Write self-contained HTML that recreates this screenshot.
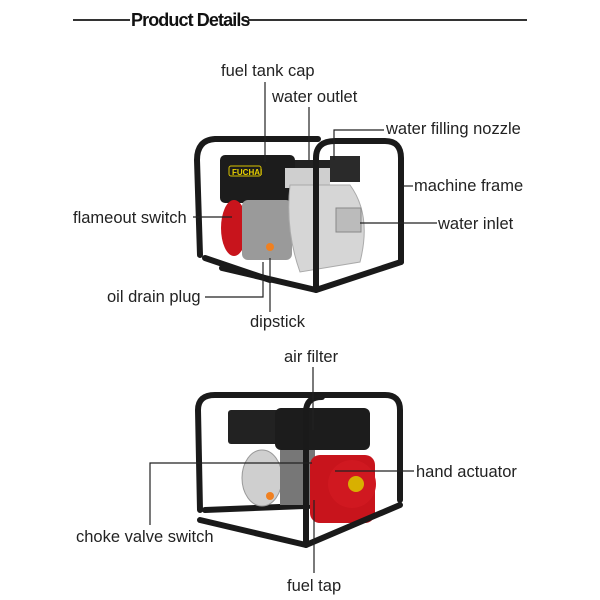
<!DOCTYPE html>
<html><head><style>
html,body{margin:0;padding:0;background:#fff;}
svg{display:block}
text{font-family:"Liberation Sans",sans-serif;font-size:16.5px;fill:#222}
</style></head><body>
<svg width="600" height="600" viewBox="0 0 600 600" xmlns="http://www.w3.org/2000/svg">
<line x1="73" y1="20" x2="130" y2="20" stroke="#333" stroke-width="2"/>
<line x1="248" y1="20" x2="527" y2="20" stroke="#333" stroke-width="2"/>
<text x="131" y="26" style="font-weight:bold;font-size:18px;fill:#111;letter-spacing:-0.9px">Product Details</text>

<!-- TOP PUMP -->
<g stroke="#1a1a1a" stroke-width="6" fill="none" stroke-linejoin="round" stroke-linecap="round">
<path d="M200 255 L197 160 Q197 140 215 139 L318 139"/>
<path d="M205 258 L270 280"/>
</g>
<rect x="220" y="155" width="75" height="48" rx="5" fill="#1c1c1c"/>
<rect x="229" y="166" width="32" height="10" rx="2" fill="#1c1c1c" stroke="#d8c200"/>
<text x="232" y="175" style="font-size:8px;font-weight:bold;fill:#e8d000">FUCHAI</text>
<rect x="295" y="160" width="65" height="22" fill="#222"/>
<rect x="330" y="156" width="30" height="26" fill="#2a2a2a"/>
<ellipse cx="234" cy="228" rx="13" ry="28" fill="#c8141c"/>
<rect x="242" y="200" width="50" height="60" rx="6" fill="#9a9a9a"/>
<rect x="285" y="168" width="45" height="20" fill="#cfcfcf"/>
<path d="M290 185 L350 185 Q372 215 360 262 L300 272 Q285 230 290 185Z" fill="#d6d6d6" stroke="#aaa"/>
<rect x="336" y="208" width="25" height="24" fill="#bbb" stroke="#888"/>
<circle cx="270" cy="247" r="4" fill="#f08020"/>
<g stroke="#1a1a1a" stroke-width="6" fill="none" stroke-linejoin="round" stroke-linecap="round">
<path d="M316 290 L316 158 Q316 141 335 141 L385 141 Q401 141 401 158 L401 262"/>
<path d="M222 268 L316 290 L401 262"/>
</g>

<!-- TOP LABELS -->
<g stroke="#222" stroke-width="1.2" fill="none">
<line x1="265" y1="82" x2="265" y2="162"/>
<line x1="309" y1="107" x2="309" y2="160"/>
<polyline points="384,130 334,130 334,160"/>
<line x1="403" y1="186" x2="413" y2="186"/>
<line x1="360" y1="223" x2="437" y2="223"/>
<line x1="193" y1="217" x2="232" y2="217"/>
<polyline points="205,297 263,297 263,262"/>
<line x1="270" y1="258" x2="270" y2="312"/>
</g>
<text x="221" y="76">fuel tank cap</text>
<text x="272" y="102">water outlet</text>
<text x="386" y="134">water filling nozzle</text>
<text x="414" y="191">machine frame</text>
<text x="438" y="229">water inlet</text>
<text x="73" y="223">flameout switch</text>
<text x="107" y="302">oil drain plug</text>
<text x="250" y="327">dipstick</text>

<!-- BOTTOM PUMP -->
<g stroke="#1a1a1a" stroke-width="6" fill="none" stroke-linejoin="round" stroke-linecap="round">
<path d="M200 510 L198 410 Q198 395 215 395 L385 395 Q400 395 400 410 L400 500"/>
<path d="M205 510 L330 505"/>
</g>
<rect x="228" y="410" width="80" height="34" rx="3" fill="#222"/>
<rect x="275" y="408" width="95" height="42" rx="6" fill="#1c1c1c"/>
<ellipse cx="262" cy="478" rx="20" ry="28" fill="#cfcfcf" stroke="#999"/>
<rect x="280" y="450" width="35" height="55" fill="#777"/>
<rect x="310" y="455" width="65" height="68" rx="10" fill="#c8141c"/>
<circle cx="352" cy="484" r="24" fill="#d01820"/>
<circle cx="356" cy="484" r="8" fill="#d8b000"/>
<circle cx="270" cy="496" r="4" fill="#f08020"/>
<g stroke="#1a1a1a" stroke-width="6" fill="none" stroke-linejoin="round" stroke-linecap="round">
<path d="M306 545 L306 412 Q306 397 322 397"/>
<path d="M200 520 L306 545 L400 505"/>
</g>

<!-- BOTTOM LABELS -->
<g stroke="#222" stroke-width="1.2" fill="none">
<line x1="313" y1="367" x2="313" y2="430"/>
<line x1="335" y1="471" x2="414" y2="471"/>
<polyline points="150,525 150,463 312,463"/>
<line x1="314" y1="500" x2="314" y2="573"/>
</g>
<text x="284" y="362">air filter</text>
<text x="416" y="477">hand actuator</text>
<text x="76" y="542">choke valve switch</text>
<text x="287" y="591">fuel tap</text>
</svg>
</body></html>
